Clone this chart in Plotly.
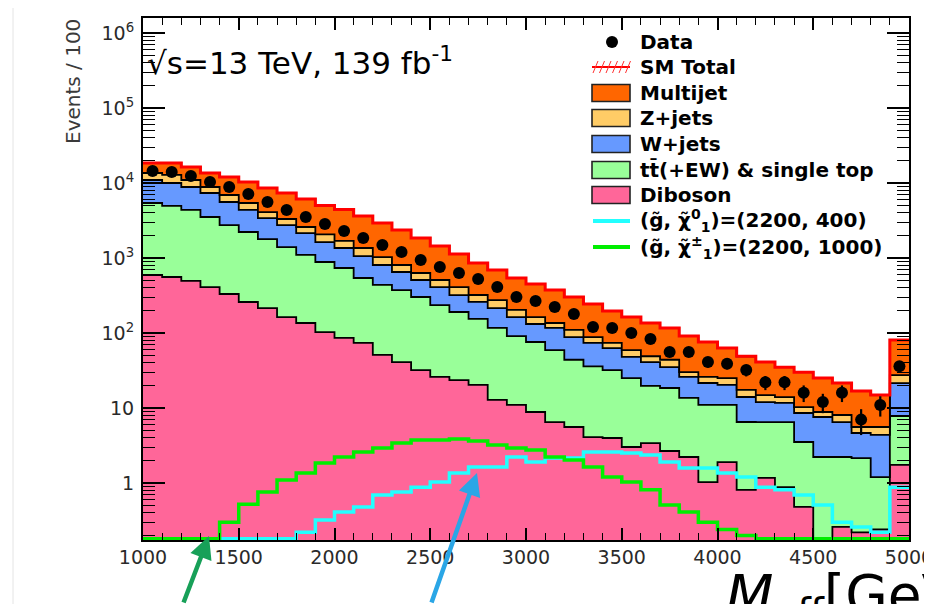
import numpy as np
import plotly.graph_objects as go

# ---------------- data (events per 100 GeV bin) ----------------
bin_edges = list(range(1000, 5001, 100))

data = [14450, 14000, 12400, 10300, 8850, 7130, 5580, 4370, 3520, 2840,
        2290, 1850, 1490, 1200, 940, 759, 631, 525, 410, 302,
        267, 222, 179, 120, 117, 100, 83, 56, 56, 41,
        39, 32, 22, 22, 16, 12, 16, 7, 11, 36]

multijet = [4900, 5700, 5340, 4750, 5080, 4890, 4480, 4050, 3530, 2940,
            2735, 2270, 1900, 1553, 1219, 936, 720, 537, 417, 338,
            287, 238, 192, 156, 122, 104, 87, 73, 61, 50,
            38, 31.6, 26.1, 21, 19.7, 16.2, 13.4, 11.3, 9.3, 53.2]

zjets = [2640, 2800, 2110, 1490, 1340, 1040, 690, 560, 440, 440,
         330, 300, 223, 156, 122, 99, 89, 62, 60, 40,
         31, 19, 22, 14, 11, 11, 8, 9, 4, 4.5,
         4.7, 3.4, 2.9, 2.3, 1.72, 1.26, 1.57, 0.94, 1.21, 6.0]

wjets = [5550, 5060, 4480, 3840, 2830, 2150, 1620, 1350, 1050, 745,
         624, 519, 370, 277, 207, 174, 130, 105, 98, 72,
         56, 58, 44, 38, 31, 23, 21.3, 16.5, 12.4, 10.5,
         9.3, 7.5, 5.5, 5.2, 5.06, 5.37, 4.28, 2.49, 3.17, 13.7]

ttbar = [4817, 4382, 3876, 3110, 2419, 1961, 1575, 1237, 964, 782,
         650, 467, 386, 333, 270, 210, 167, 134, 104, 80,
         67, 52.5, 38.4, 31.9, 28, 22, 16.3, 15.8, 11.4, 10,
         9.1, 5.7, 5.3, 5.6, 3.04, 2.22, 1.96, 1.93, 0.96, 6.08]

diboson = [593, 558, 494, 410, 331, 259, 215, 163, 136, 103,
           86, 74, 51, 41, 32, 26, 23.6, 20.3, 12.8, 11,
           8.85, 6.5, 5.58, 4.1, 3.98, 3.02, 3.41, 2.67, 2.22, 1.03,
           1.9, 0.81, 1.17, 0.88, 0.48, 0, 0.26, 0.22, 0.24, 1.74]

sig_2200_400 = [0, 0, 0, 0, 0, 0, 0, 0, 0.22, 0.32,
                0.41, 0.48, 0.69, 0.76, 0.88, 1.03, 1.36, 1.63, 1.63, 2.22,
                1.9, 2.15, 2.15, 2.59, 2.59, 2.51, 2.36, 1.9, 1.58, 1.58,
                1.36, 1.2, 0.88, 0.81, 0.69, 0.51, 0.3, 0.26, 0.22, 0.88]

sig_2200_1000 = [0, 0, 0, 0, 0.3, 0.52, 0.76, 1.1, 1.36, 1.85,
                 2.22, 2.59, 2.93, 3.41, 3.74, 3.74, 3.86, 3.63, 3.21, 2.93,
                 2.75, 2.22, 2.03, 1.63, 1.2, 1.03, 0.81, 0.51, 0.41, 0.3,
                 0.24, 0.2, 0, 0, 0, 0, 0, 0, 0, 0]

x_tickvals = [1000, 1500, 2000, 2500, 3000, 3500, 4000, 4500, 5000]
y_tickvals = [1, 10, 100, 1e3, 1e4, 1e5, 1e6]
y_ticktext = ["1", "10", "10<sup>2</sup>", "10<sup>3</sup>", "10<sup>4</sup>",
              "10<sup>5</sup>", "10<sup>6</sup>"]

layer_names = ["Diboson", "tt\u0304(+EW) & single top", "W+jets", "Z+jets", "Multijet"]
layer_values = [diboson, ttbar, wjets, zjets, multijet]
layer_colors = ["#ff6699", "#99ff99", "#6699ff", "#ffcc66", "#ff6600"]

# ---------------- geometry helpers (screen pixel coordinates) ----------------
OFF = 8                               # default page margin of the html body
W, H = 932 - OFF, 612 - 2 * OFF       # figure fits the window without scrolling
SL, SR, ST, SB = 143, 909, 18, 540    # plot frame on screen
L, T = SL - OFF, ST - OFF
R = W - (SR - OFF)
B = H - (SB - OFF)
PW, PH = SR - SL, SB - ST


def px(xs):
    return (xs - SL) / PW


def py(ys):
    return (SB - ys) / PH


FLOOR = 1e-3        # below-range value used to draw empty stack bins
SIG_FLOOR = 0.18    # empty signal bins are drawn along the axis bottom

edges = np.array(bin_edges, dtype=float)
centers = 0.5 * (edges[:-1] + edges[1:])


def step_y(vals, floor):
    v = np.array(vals, dtype=float)
    v = np.where(v <= 0, floor, v)
    return list(v) + [v[-1]]


fig = go.Figure()

# baseline for the first fill
fig.add_trace(go.Scatter(x=edges, y=[FLOOR] * len(edges), mode="lines",
                         line=dict(width=0, shape="hv"), hoverinfo="skip",
                         showlegend=False))

cum = np.zeros(len(centers))
for name, vals, col in zip(layer_names, layer_values, layer_colors):
    cum = cum + np.array(vals, dtype=float)
    fig.add_trace(go.Scatter(x=edges, y=step_y(cum, FLOOR), mode="lines",
                             line=dict(color="black", width=1.8, shape="hv"),
                             fill="tonexty", fillcolor=col, name=name,
                             showlegend=False))

# SM total
fig.add_trace(go.Scatter(x=edges, y=step_y(cum, FLOOR), mode="lines",
                         line=dict(color="#ff0000", width=3, shape="hv"),
                         name="SM Total", showlegend=False))

# signals
fig.add_trace(go.Scatter(x=edges, y=step_y(sig_2200_400, SIG_FLOOR), mode="lines",
                         line=dict(color="#22ffff", width=3.5, shape="hv"),
                         showlegend=False))
fig.add_trace(go.Scatter(x=edges, y=step_y(sig_2200_1000, SIG_FLOOR), mode="lines",
                         line=dict(color="#00ee00", width=3.5, shape="hv"),
                         showlegend=False))

# data
dv = np.array(data, dtype=float)
fig.add_trace(go.Scatter(x=centers, y=dv, mode="markers",
                         marker=dict(color="black", size=12),
                         error_y=dict(type="data", array=np.sqrt(dv), color="black",
                                      thickness=2.2, width=0),
                         name="Data", showlegend=False))

# ---------------- axes ----------------
x_minor = [v for v in range(1000, 5001, 100) if v % 500 != 0]
y_minor = [m * 10.0 ** e for e in range(-1, 7) for m in range(2, 10)]

tickfont = dict(family="DejaVu Sans", size=19, color="#2a2a2a")

fig.update_xaxes(range=[1000, 5000], tickmode="array", tickvals=x_tickvals,
                 automargin=False,
                 ticks="inside", ticklen=12, tickwidth=1.5, tickcolor="black",
                 showline=True, linecolor="black", linewidth=2, mirror="allticks",
                 showgrid=False, zeroline=False, tickfont=tickfont,
                 ticklabelstandoff=-1, ticklabeloverflow="allow",
                 minor=dict(tickmode="array", tickvals=x_minor, ticks="inside",
                            ticklen=7, tickwidth=1.2, tickcolor="black", showgrid=False))
fig.update_yaxes(type="log", range=[-0.76, 6.2], tickmode="array",
                 tickvals=y_tickvals, ticktext=y_ticktext, automargin=False,
                 ticks="inside", ticklen=22, tickwidth=1.5, tickcolor="black",
                 showline=True, linecolor="black", linewidth=2, mirror="allticks",
                 showgrid=False, zeroline=False, tickfont=tickfont,
                 ticklabelstandoff=3, ticklabeloverflow="allow",
                 minor=dict(tickmode="array", tickvals=y_minor, ticks="inside",
                            ticklen=12, tickwidth=1.2, tickcolor="black", showgrid=False))

# ---------------- legend (drawn by hand) ----------------
shapes = []
annotations = []
lx0, lx1, tx = 592, 630, 638
rows = [42, 67, 93, 118, 144, 170, 195, 221, 247]
legend_labels = ["Data", "SM Total", "Multijet", "Z+jets", "W+jets",
                 "tt\u0304(+EW) & single top", "Diboson",
                 "(g\u0303, \u03c7\u0303<sup>0</sup><sub>1</sub>)=(2200, 400)",
                 "(g\u0303, \u03c7\u0303<sup>\u00b1</sup><sub>1</sub>)=(2200, 1000)"]

# data dot
shapes.append(dict(type="circle", xref="paper", yref="paper",
                   x0=px(606), x1=px(618), y0=py(rows[0] + 6), y1=py(rows[0] - 6),
                   fillcolor="black", line=dict(color="black", width=0)))
# SM total: red line + hatching
shapes.append(dict(type="line", xref="paper", yref="paper",
                   x0=px(lx0), x1=px(lx1), y0=py(rows[1]), y1=py(rows[1]),
                   line=dict(color="#ff0000", width=2)))
for i in range(6):
    shapes.append(dict(type="line", xref="paper", yref="paper",
                       x0=px(lx0 + 1 + 6.5 * i), x1=px(lx0 + 6 + 6.5 * i),
                       y0=py(rows[1] + 6), y1=py(rows[1] - 6),
                       line=dict(color="#ff3030", width=1)))
# filled boxes
box_cols = ["#ff6600", "#ffcc66", "#6699ff", "#99ff99", "#ff6699"]
for r, c in zip(rows[2:7], box_cols):
    shapes.append(dict(type="rect", xref="paper", yref="paper",
                       x0=px(lx0), x1=px(lx1), y0=py(r + 8.5), y1=py(r - 8.5),
                       fillcolor=c, line=dict(color="#222", width=1.6)))
# signal lines
for r, c in zip(rows[7:], ["#22ffff", "#00ee00"]):
    shapes.append(dict(type="line", xref="paper", yref="paper",
                       x0=px(lx0 + 1), x1=px(lx1), y0=py(r), y1=py(r),
                       line=dict(color=c, width=4)))

for r, lab in zip(rows, legend_labels):
    annotations.append(dict(text=lab, xref="paper", yref="paper", x=px(tx), y=py(r),
                            xanchor="left", yanchor="middle", showarrow=False,
                            font=dict(family="DejaVu Sans", size=20, color="black",
                                      weight="bold")))

# energy / luminosity label
annotations.append(dict(text="\u221as=13 TeV, 139 fb<sup>-1</sup>", xref="paper", yref="paper",
                        x=px(145), y=py(61), xanchor="left", yanchor="middle",
                        showarrow=False,
                        font=dict(family="DejaVu Sans", size=31, color="black")))

# axis titles
annotations.append(dict(text="Events / 100", xref="paper", yref="paper",
                        x=px(73), y=py(82), xanchor="center", yanchor="middle",
                        textangle=-90, showarrow=False,
                        font=dict(family="DejaVu Sans", size=20, color="#3a3a3a")))
annotations.append(dict(text="<i>M</i><sub>eff</sub>[GeV]", xref="paper", yref="paper",
                        x=px(724), y=py(561), xanchor="left", yanchor="top",
                        showarrow=False,
                        font=dict(family="DejaVu Sans", size=55, color="black")))

# pointer arrows
annotations.append(dict(text="", xref="paper", yref="paper", x=px(209), y=py(536),
                        ax=-26, ay=95, showarrow=True, arrowhead=2, arrowsize=1,
                        arrowwidth=4.5, arrowcolor="#17a058"))
annotations.append(dict(text="", xref="paper", yref="paper", x=px(477), y=py(473),
                        ax=-46, ay=160, showarrow=True, arrowhead=2, arrowsize=1,
                        arrowwidth=4.5, arrowcolor="#2aa6e6"))

# faint page border line at the left
shapes.append(dict(type="line", xref="paper", yref="paper",
                   x0=px(13), x1=px(13), y0=py(OFF), y1=py(612),
                   line=dict(color="#e4e4e4", width=1)))

fig.update_layout(width=W, height=H, autosize=False,
                  margin=dict(l=L, r=R, t=T, b=B, pad=0),
                  paper_bgcolor="white", plot_bgcolor="white",
                  showlegend=False, shapes=shapes, annotations=annotations)

fig.write_html("out.html")
